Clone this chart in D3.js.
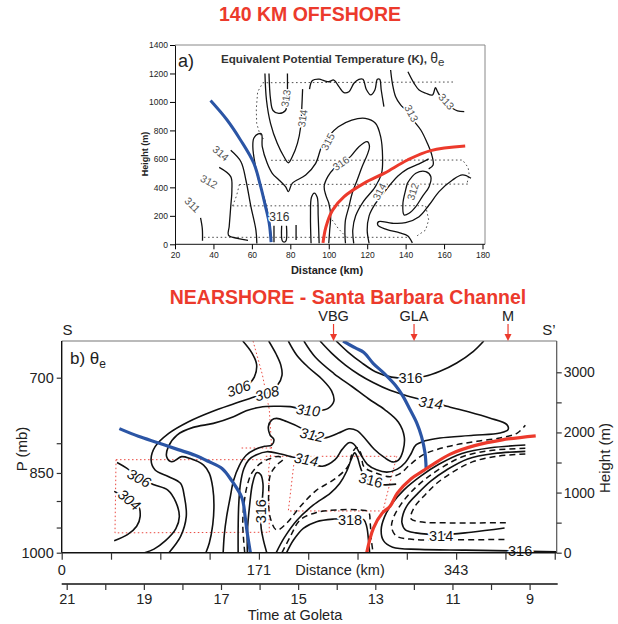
<!DOCTYPE html>
<html>
<head>
<meta charset="utf-8">
<script src="https://cdnjs.cloudflare.com/ajax/libs/d3/7.8.5/d3.min.js"></script>
<style>
  body { margin: 0; background: #fff; }
  text { font-family: "Liberation Sans", Arial, sans-serif; }
</style>
</head>
<body>
<svg id="fig" width="618" height="624"></svg>
<script>
// ---------------- top panel: 140 km offshore (km, m) ----------------
var offXTicks = [20, 40, 60, 80, 100, 120, 140, 160, 180];
var offYTicks = [0, 200, 400, 600, 800, 1000, 1200, 1400];

var offBlue = [[38.5,1010],[47,875],[54,735],[61,570],[64.5,410],[67,270],[69,150],[70,15]];
var offRed = [[97,10],[98.5,120],[102,240],[108,335],[118.5,430],[129,500],[141,592],[153,658],[171,690]];

var off311 = [[33.3,185],[34.2,110],[34.3,25]];
var off312a = [[43,540],[49,475],[49.6,380],[49,265],[48.2,125],[47.8,65],[53,40],[58,28]];
var off314a = [[49,660],[54.3,580],[56.9,450],[59.5,265],[62.1,100],[62.6,5]];
var off315 = [[70.2,18],[69.2,147],[67.1,288],[64,428],[61.6,569],[60.5,686],[61,745],[63.3,775],[65,775],[65.4,686],[68,569],[70.6,499],[74.1,452],[77.5,405],[79,370],[81,428],[88,487],[93.2,569],[96.3,686],[100,760],[105,826],[112,873],[119,885],[124.3,850],[127,756],[128,615],[127.5,500],[124,400],[118,300],[114,200],[112.5,100],[113,7]];
var off314b = [[66.8,1200],[67.6,1014],[69.7,850],[73.2,709],[76.7,615],[79,573],[81,615],[83.7,709],[85.4,826],[86,967],[86.4,1090]];
var off313a = [[68.9,1200],[69.7,1020],[71,940],[74,920],[77.5,940],[78.3,1000],[78.5,1200]];
var offWavy = [[90,1090],[91.5,1150],[95,1160],[97.5,1150],[100,1142],[102.6,1154],[105.3,1107],[107.9,1065],[110.5,1072],[113.1,1131],[115.7,1159],[117.8,1159],[119.5,1089],[121.8,1049],[124,1084],[125.3,1159],[126.5,1159],[127.3,1084],[128.7,967]];
var off313b = [[132.2,1224],[133.1,1131],[134.8,1037],[137.4,979],[140,944],[143.9,873],[147.9,803],[151.3,710],[153.6,628],[154.3,557],[152,530]];
var off313c = [[141.2,1212],[144.4,1131],[147,1084],[150.5,1061],[154,1049],[155.5,1100],[156.6,1072],[160,1000],[164.4,955],[167,937],[170.5,932]];
var off316 = [[100,7],[100.5,100],[101,200],[100,290],[98.6,340],[97.6,405],[99.5,475],[102.9,534],[106.4,569],[111.3,616],[115.7,686],[120,721],[121.2,686],[120,628],[117.4,546],[114.8,452],[112.2,359],[110.5,265],[108.7,171],[108.4,78],[108.7,7]];
var offU = [[90.8,7],[90.5,200],[91,330],[92.5,360],[94,330],[94.5,200],[95,7]];
var off314c = [[152,600],[147,565],[141,530],[136,480],[132,420],[128,350],[124,280],[121,200],[120,100],[121,7]];
var off312b = [[140.9,429],[145.3,499],[150.5,511],[153.1,476],[152.2,405],[148.7,335],[145.3,265],[141.8,218],[139.2,206],[138.6,288],[140,382],[140.9,429]];
var offTongue = [[174,464],[169.6,487],[164.4,452],[157.4,370],[152.2,276],[147,194],[140,152],[133,148],[126,159],[125.5,136],[130,105],[137,80],[141,60],[143.5,10]];
var offComb1 = [[71.5,130],[71.5,15]];
var offComb2 = [[75.5,130],[75.8,25],[76.8,15],[77.8,25],[78,130]];
var offComb3 = [[83,135],[83,30]];

var offDot1 = [[66,740],[64,780],[62.5,850],[62.3,950],[63,1070],[65.7,1135],[166,1140]];
var offDot2 = [[70,590],[169.6,592],[172.5,540],[173,499],[172,428]];
var offDot3 = [[53.5,420],[172.5,423]];
var offDot4 = [[53.5,420],[52,340],[50,270]];
var offDot5 = [[50,270],[150.4,271],[152,171],[150.4,100],[146,60]];
var offDot6 = [[35,49],[141,49]];
var offDot7 = [[101.8,171],[105,110],[109,53]];

var offLabels = [[29,277,"311"],[37.7,440,"312"],[43.8,639,"314"],[77.7,1025,"313"],[86.4,885,"314"],[99.5,721,"315"],[106.4,569,"316"],[143,920,"313"],[161.2,1002,"313"],[126.4,370,"314"],[143.8,370,"312"]];
var offMark = [74.3, 190, "316"];

// ---------------- bottom panel: nearshore (km, m) ----------------
var presTicks = [700, 800, 850, 900, 950, 1000];
var presLabels = [700, 850, 1000];
var hgtTicks = [0, 500, 1000, 1500, 2000, 2500, 3000];
var distTicks = [0, 42.75, 85.5, 128.25, 171, 213.75, 256.5, 299.25, 342, 384.75, 427.5];
var distLabels = [[0,"0"],[171,"171"],[342,"343"]];
var timeTicks = [21, 20, 19, 18, 17, 16, 15, 14, 13, 12, 11, 10, 9];
var stations = ["VBG", "GLA", "M"];
var stationKm = [235.7, 305.5, 387];

var nearBlueA = [[50,2063],[66.5,1935],[84,1825],[101,1714],[115.6,1620],[127,1520],[139,1400],[147.7,1190],[156.3,910],[159.2,577],[160.7,355],[163.6,0]];
var nearBlueB = [[244,3520],[254.6,3405],[262,3330],[270,3150],[280,2975],[290,2770],[296,2600],[302,2380],[308,2150],[312,1930],[315,1660],[316,1400]];
var nearRed = [[264.5,0],[270.3,408],[278,660],[284.7,771],[291,990],[303,1230],[313.6,1364],[322,1470],[337,1640],[358,1780],[382,1877],[411,1944]];

var n304 = [[45.5,1020],[52,960],[58,900],[66,800],[68,600],[65,440],[57,300],[45.5,200]];
var n306a = [[48,1500],[56,1410],[67,1250],[80,1130],[92,1040],[99,840],[102,600],[99,400],[90,200],[80,60],[72,0]];
var n306b = [[157,3520],[165,3320],[169,3130],[167,2920],[162,2800]];
var n308 = [[179.5,3520],[186,3300],[190,3120],[191,2950],[187,2780],[178,2650],[167.6,2595],[150.6,2484],[130,2345],[110,2179],[92.8,1985],[81,1763],[77.5,1541],[81,1375],[92.8,1264],[103,1153],[106.4,932],[108,599],[103,266],[93,0]];
var n310 = [[196.5,3520],[204,3280],[214,3080],[226,2880],[234,2690],[236,2520],[231,2400],[222,2360],[213.6,2362],[198,2429],[185,2435],[172,2420],[160,2360],[149,2262],[131.5,2151],[114,2084],[100,1957],[92.5,1763],[91,1597],[95.4,1513],[104,1597],[111,1569],[123,1458],[128,1320],[131,1080],[132,800],[131,470],[128,160],[125,0]];
var n312 = [[140,0],[141,300],[143,600],[146,910],[149,1200],[154,1450],[160,1620],[168,1720],[176,1770],[182,1790],[184,1880],[180.6,1960],[179.2,2096],[182,2206],[186.4,2234],[195,2180],[208,2068],[217,1960],[228,1910],[240,1990],[249,2060],[256,2030],[263,1900],[271,1720],[280,1580],[287,1510],[292,1540],[296,1700],[297,1930],[292,2170],[280,2380],[266,2560],[252,2760],[236,2980],[220,3250],[210,3520]];
var n314 = [[153,0],[153,400],[153.5,800],[155,1150],[158,1400],[162,1540],[169,1630],[178,1680],[190,1640],[200,1590],[212,1530],[226,1437],[237,1547],[243,1714],[249,1830],[253,1810],[259,1640],[265,1470],[273,1380],[282,1340],[291,1390],[298,1500],[303,1650],[307,1790],[315,1860],[328,1908],[357,1952],[380,1991],[387,2046],[386,2130],[371,2240],[351,2351],[334,2434],[322,2490],[310.7,2550],[299,2610],[284.7,2700],[270,2830],[258,2960],[246,3120],[234,3320],[224,3520]];
var n316top = [[238,3520],[248,3340],[260,3160],[272,3010],[286,2920],[303,2905],[315,2933],[328,3017],[342.5,3155],[357,3349],[366,3520]];
var n316tongue = [[161,0],[161,350],[163,800],[165.5,1150],[169,1330],[172.5,1300],[174.5,1150],[174,900],[172.5,700],[173,400],[175,200],[177.8,0]];
var n316mid = [[186,0],[193,250],[204,540],[218,790],[233,990],[241,1150],[247,1350],[251,1550],[254,1660],[256.5,1580],[258.5,1450],[262,1280],[268,1180],[278,1130],[290,1140]];
var n318 = [[195,0],[201,210],[209.5,405],[221,516],[236,560],[250,565],[262,545],[264.5,430],[266,210],[267,0]];
var nR316 = [[402,1790],[372,1745],[347,1650],[327,1470],[311,1270],[297,1050],[287,830],[280,600],[277,380],[279,200],[287,90],[310,55],[350,42],[390,30],[429,15]];
var nR314 = [[402,1685],[375,1650],[352,1560],[334,1380],[320,1190],[309,990],[300,800],[296,640],[295,500],[298,380],[307,330],[330,300],[355,340],[384,410]];

var nD315 = [[158.7,0],[157,470],[158,800],[161,1130],[165,1330],[172,1480],[180,1560],[188,1600],[192,1560],[186,1450],[181,1300],[179.5,1040],[180.6,600],[186.4,377],[195,490],[206.7,765],[221,1040],[235.6,1210],[248,1430],[252.5,1680],[255.8,1750],[259.5,1650],[262,1430],[273,1320],[284.7,1264],[293,1310],[302,1464],[313.6,1630],[325,1714],[342.5,1797],[360,1852],[380,1908],[395,1990],[402,2118]];
var nD317 = [[191,0],[198,260],[206.7,543],[221,670],[238,710],[259,710],[266,680],[267.5,490],[268.5,210],[270,0]];
var nR315 = [[402,1735],[372,1700],[348,1600],[330,1420],[315,1220],[303,1010],[294,800],[288,600],[286,430],[290,280],[305,220],[340,215],[386,220]];
var nR313 = [[402,1640],[378,1605],[356,1510],[339,1340],[325,1150],[315,960],[307,790],[303,640],[303,560],[310,515],[340,495],[386,500]];

var nDot1 = [[47.1,1547],[177,1547]];
var nDot2 = [[177,1603],[290.5,1603]];
var nDot3 = [[47.1,1547],[46.2,330],[180,340]];
var nDot4 = [[165.9,3520],[174,2960],[180,2380],[182,1760],[179.5,1400],[180,340]];
var nDot5 = [[156,1741],[182.4,1741]];
var nDot6 = [[202,1590],[196.5,694],[278.5,694],[290.5,1603]];

var nearLabels = [[58.5,880,"304"],[67,1240,"306"],[153.5,2730,"306"],[178,2650,"308"],[213.6,2368,"310"],[217,1960,"312"],[212,1550,"314"],[320,2490,"314"],[302.5,2905,"316"],[268,1205,"316"],[172.5,690,"316"],[250,540,"318"],[329,275,"314"],[397.5,22,"316"]];

// ---------------- drawing ----------------
var svg = d3.select("#fig");
var font = '"Liberation Sans", Arial, sans-serif';
var BLUE = "#2b55a5", RED = "#ec3a2c";

// titles
svg.append("text").attr("x", 310).attr("y", 21).attr("text-anchor", "middle")
  .attr("font-size", 19.5).attr("font-weight", "bold").attr("fill", RED).text("140 KM OFFSHORE");
svg.append("text").attr("x", 348).attr("y", 304).attr("text-anchor", "middle")
  .attr("font-size", 19.5).attr("font-weight", "bold").attr("fill", RED).text("NEARSHORE - Santa Barbara Channel");

// ---- top panel ----
var xo = d3.scaleLinear().domain([20, 180]).range([175, 482.5]);
var yo = d3.scaleLinear().domain([0, 1400]).range([244.3, 45]);

svg.append("clipPath").attr("id", "clipTop").append("rect")
  .attr("x", 175).attr("y", 45).attr("width", 310).attr("height", 199.3);

var gOff = svg.append("g");
var lineO = d3.line().x(function(d) { return xo(d[0]); }).y(function(d) { return yo(d[1]); })
  .curve(d3.curveCatmullRom.alpha(0.5));
var lineOlin = d3.line().x(function(d) { return xo(d[0]); }).y(function(d) { return yo(d[1]); });

var gTop = gOff.append("g").attr("clip-path", "url(#clipTop)");
[offDot1, offDot2, offDot3, offDot4, offDot5, offDot6, offDot7].forEach(function(p) {
  gTop.append("path").attr("d", lineOlin(p)).attr("fill", "none")
    .attr("stroke", "#222").attr("stroke-width", 0.8).attr("stroke-dasharray", "1.6,2.6");
});
[off311, off312a, off314a, off315, off314b, off313a, offWavy, off313b, off313c, off316, offU,
 off314c, off312b, offTongue, offComb1, offComb2, offComb3].forEach(function(p) {
  gTop.append("path").attr("d", lineO(p)).attr("fill", "none")
    .attr("stroke", "#111").attr("stroke-width", 1.3);
});

var offRot = [45, 28, 40, -82, -82, -62, -35, 62, 48, -62, -72];
offLabels.forEach(function(l, i) {
  gTop.append("text")
    .attr("transform", "translate(" + xo(l[0]) + "," + yo(l[1]) + ") rotate(" + offRot[i] + ")")
    .attr("text-anchor", "middle").attr("dy", "0.35em")
    .attr("font-size", 10.5).attr("fill", "#555")
    .attr("stroke", "#fff").attr("stroke-width", 3).attr("paint-order", "stroke")
    .attr("stroke-linejoin", "round").text(l[2]);
});

gTop.append("path").attr("d", lineO(offBlue)).attr("fill", "none").attr("stroke", BLUE).attr("stroke-width", 3);
gTop.append("path").attr("d", lineO(offRed)).attr("fill", "none").attr("stroke", RED).attr("stroke-width", 3);
gTop.append("text").attr("x", xo(offMark[0])).attr("y", yo(offMark[1])).attr("text-anchor", "middle")
  .attr("dy", "0.35em").attr("font-size", 12).attr("fill", "#333")
  .attr("stroke", "#fff").attr("stroke-width", 3).attr("paint-order", "stroke").text(offMark[2]);

// frame
gOff.append("line").attr("x1", 175).attr("x2", 485).attr("y1", 45).attr("y2", 45).attr("stroke", "#888");
gOff.append("line").attr("x1", 485).attr("x2", 485).attr("y1", 45).attr("y2", 244.3).attr("stroke", "#888");

var axO1 = gOff.append("g").attr("transform", "translate(175,0)")
  .call(d3.axisLeft(yo).tickValues(offYTicks).tickSize(5).tickPadding(2).tickSizeOuter(0).tickFormat(d3.format("d")));
var axO2 = gOff.append("g").attr("transform", "translate(0,244.3)")
  .call(d3.axisBottom(xo).tickValues(offXTicks).tickSize(5).tickPadding(3).tickSizeOuter(0));
[axO1, axO2].forEach(function(a) {
  a.attr("font-family", font).attr("font-size", 8.5);
  a.select(".domain").attr("stroke", "#111");
  a.selectAll("text").attr("fill", "#222");
});
axO2.select(".domain").attr("d", "M175,0H485");

gOff.append("text").attr("x", 178).attr("y", 67).attr("font-size", 18).attr("fill", "#222").text("a)");
var tt = gOff.append("text").attr("x", 221).attr("y", 63).attr("font-size", 11.6).attr("font-weight", "bold").attr("fill", "#333");
tt.append("tspan").text("Equivalent Potential Temperature (K), ");
tt.append("tspan").attr("font-weight", "normal").attr("font-size", 14).text("\u03b8");
tt.append("tspan").attr("font-weight", "normal").attr("font-size", 11.5).attr("dy", 3).text("e");
gOff.append("text").attr("transform", "translate(148,154) rotate(-90)").attr("text-anchor", "middle")
  .attr("font-size", 9).attr("font-weight", "bold").attr("fill", "#222").text("Height (m)");
gOff.append("text").attr("x", 327).attr("y", 274).attr("text-anchor", "middle")
  .attr("font-size", 11).attr("font-weight", "bold").attr("fill", "#222").text("Distance (km)");

// ---- bottom panel ----
var xn = d3.scaleLinear().domain([0, 429.2]).range([61.7, 556.7]);
var yn = d3.scaleLinear().domain([0, 3000]).range([552.7, 372.3]);
var pn = d3.scaleLog().domain([1000, 700]).range([552.7, 377.7]);
var tn = d3.scaleLinear().domain([21, 9]).range([66.7, 529.6]);
var topM = yn.invert(341);

svg.append("clipPath").attr("id", "clipBot").append("rect")
  .attr("x", xn(0)).attr("y", yn(topM)).attr("width", xn(429.2) - xn(0)).attr("height", yn(0) - yn(topM));

var gNear = svg.append("g");
var lineN = d3.line().x(function(d) { return xn(d[0]); }).y(function(d) { return yn(d[1]); })
  .curve(d3.curveCatmullRom.alpha(0.5));
var lineNlin = d3.line().x(function(d) { return xn(d[0]); }).y(function(d) { return yn(d[1]); });

var gBot = gNear.append("g").attr("clip-path", "url(#clipBot)");
[nDot1, nDot2, nDot3, nDot4, nDot5, nDot6].forEach(function(p) {
  gBot.append("path").attr("d", lineNlin(p)).attr("fill", "none")
    .attr("stroke", "#e8332a").attr("stroke-width", 0.9).attr("stroke-dasharray", "1.5,2.5");
});
[n304, n306a, n306b, n308, n310, n312, n314, n316top, n316tongue, n316mid, n318, nR316, nR314].forEach(function(p) {
  gBot.append("path").attr("d", lineN(p)).attr("fill", "none")
    .attr("stroke", "#111").attr("stroke-width", 1.6);
});
[nD315, nD317, nR315, nR313].forEach(function(p) {
  gBot.append("path").attr("d", lineN(p)).attr("fill", "none")
    .attr("stroke", "#111").attr("stroke-width", 1.5).attr("stroke-dasharray", "6,4");
});

var gLab = gNear.append("g");
var nearRot = [40, 28, -20, -15, 6, 12, 10, 8, 0, 15, -90, 0, 0, 0];
var nearItal = [1, 1, 1, 1, 1, 1, 1, 1, 0, 0, 0, 0, 0, 0];
nearLabels.forEach(function(l, i) {
  gLab.append("text")
    .attr("transform", "translate(" + xn(l[0]) + "," + yn(l[1]) + ") rotate(" + nearRot[i] + ")")
    .attr("text-anchor", "middle").attr("dy", "0.35em")
    .attr("font-size", 14.5).attr("font-style", nearItal[i] ? "italic" : "normal").attr("fill", "#111")
    .attr("stroke", "#fff").attr("stroke-width", 4).attr("paint-order", "stroke")
    .attr("stroke-linejoin", "round").text(l[2]);
});

gBot.append("path").attr("d", lineN(nearBlueA)).attr("fill", "none").attr("stroke", BLUE).attr("stroke-width", 3.2);
gBot.append("path").attr("d", lineN(nearBlueB)).attr("fill", "none").attr("stroke", BLUE).attr("stroke-width", 3.2);
gBot.append("path").attr("d", lineN(nearRed)).attr("fill", "none").attr("stroke", RED).attr("stroke-width", 3.2);

// frame
gNear.append("line").attr("x1", xn(0)).attr("x2", xn(429.2)).attr("y1", 341).attr("y2", 341).attr("stroke", "#777").attr("stroke-width", 1.2);
gNear.append("line").attr("x1", xn(429.2)).attr("x2", xn(429.2)).attr("y1", 341).attr("y2", yn(0)).attr("stroke", "#555").attr("stroke-width", 1.2);

var axP = gNear.append("g").attr("transform", "translate(" + xn(0) + ",0)")
  .call(d3.axisLeft(pn).tickValues(presTicks).tickSize(5).tickPadding(3).tickSizeOuter(0)
    .tickFormat(function(d) { return presLabels.indexOf(d) >= 0 ? d : ""; }));
axP.select(".domain").attr("d", "M0,341V" + yn(0));
var axH = gNear.append("g").attr("transform", "translate(" + xn(429.2) + ",0)")
  .call(d3.axisRight(yn).tickValues(hgtTicks).tickSize(5).tickPadding(2).tickSizeOuter(0)
    .tickFormat(function(d) { return d % 1000 === 0 ? d : ""; }));
axH.select(".domain").remove();
var axD = gNear.append("g").attr("transform", "translate(0," + yn(0) + ")")
  .call(d3.axisBottom(xn).tickValues(distTicks).tickSize(7).tickSizeOuter(0).tickFormat(""));
var axT = gNear.append("g").attr("transform", "translate(0,584)")
  .call(d3.axisBottom(tn).tickValues(timeTicks).tickSize(6).tickPadding(4).tickSizeOuter(0)
    .tickFormat(function(d) { return d % 2 === 1 ? d : ""; }));
axT.select(".domain").attr("d", "M" + xn(0) + ",0H" + (xn(429.2) + 1));
[axP, axH, axD, axT].forEach(function(a) {
  a.attr("font-family", font).attr("font-size", 14.5);
  a.selectAll("line").attr("stroke", "#333").attr("stroke-width", 1.2);
  a.select(".domain").attr("stroke", "#111").attr("stroke-width", 1.4);
  a.selectAll("text").attr("fill", "#222");
});
axH.attr("font-size", 14);
axD.select(".domain").attr("d", "M" + xn(0) + ",0H" + xn(429.2));

distLabels.forEach(function(d) {
  gNear.append("text").attr("x", xn(d[0])).attr("y", 575).attr("text-anchor", "middle")
    .attr("font-size", 14.5).attr("fill", "#222").text(d[1]);
});
gNear.append("text").attr("x", 340).attr("y", 575).attr("text-anchor", "middle")
  .attr("font-size", 14.5).attr("fill", "#222").text("Distance (km)");
gNear.append("text").attr("x", 295).attr("y", 620).attr("text-anchor", "middle")
  .attr("font-size", 14.5).attr("fill", "#222").text("Time at Goleta");
gNear.append("text").attr("transform", "translate(27,449) rotate(-90)").attr("text-anchor", "middle")
  .attr("font-size", 15).attr("fill", "#222").text("P (mb)");
gNear.append("text").attr("transform", "translate(610,458) rotate(-90)").attr("text-anchor", "middle")
  .attr("font-size", 15).attr("fill", "#222").text("Height (m)");

gNear.append("text").attr("x", 67.5).attr("y", 335).attr("text-anchor", "middle")
  .attr("font-size", 15).attr("fill", "#222").text("S");
gNear.append("text").attr("x", 549).attr("y", 335).attr("text-anchor", "middle")
  .attr("font-size", 15).attr("fill", "#222").text("S\u2019");

stations.forEach(function(s, i) {
  var x = xn(stationKm[i]);
  gNear.append("text").attr("x", x).attr("y", 321).attr("text-anchor", "middle")
    .attr("font-size", 14.5).attr("fill", "#222").text(s);
  gNear.append("line").attr("x1", x).attr("x2", x).attr("y1", 324).attr("y2", 336)
    .attr("stroke", RED).attr("stroke-width", 1.2);
  gNear.append("path").attr("d", "M" + (x - 3.5) + ",334L" + (x + 3.5) + ",334L" + x + ",341Z").attr("fill", RED);
});

var bl = gNear.append("text").attr("x", 70).attr("y", 364).attr("font-size", 17).attr("fill", "#222");
bl.append("tspan").text("b)  \u03b8");
bl.append("tspan").attr("font-size", 12).attr("dy", 4).text("e");
</script>
</body>
</html>
